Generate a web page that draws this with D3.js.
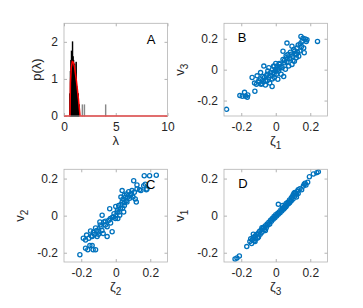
<!DOCTYPE html>
<html>
<head>
<meta charset="utf-8">
<script src="https://cdn.jsdelivr.net/npm/d3@7"></script>
<style>
  html, body { margin: 0; padding: 0; background: #fff; }
  svg { display: block; font-family: "Liberation Sans", Arial, sans-serif; }
  .tick text { fill: #262626; font-size: 12px; }
</style>
</head>
<body>
<svg id="chart" width="363" height="308"></svg>
<script>
// Panel A: eigenvalue histogram (bin start, height) and fitted density
const histBinWidth = 0.05;
const histBins = [
  [0.55, 0.6], [0.60, 1.2], [0.65, 1.5], [0.70, 1.75], [0.75, 1.7],
  [0.80, 2.0], [0.85, 1.6], [0.90, 1.5], [0.95, 1.3], [1.00, 1.4],
  [1.05, 1.1], [1.10, 1.0], [1.15, 1.45], [1.20, 0.8], [1.25, 0.7],
  [1.30, 0.5], [1.35, 0.6], [1.40, 0.3], [1.45, 0.3],
  [1.75, 0.3], [1.95, 0.3], [4.00, 0.3]
];
const densityCurve = [
  [0, 0], [0.58, 0], [0.62, 0.9], [0.7, 1.3], [0.8, 1.47], [0.9, 1.45],
  [1.0, 1.35], [1.1, 1.15], [1.2, 0.95], [1.3, 0.7], [1.4, 0.45],
  [1.5, 0.15], [1.55, 0], [10, 0]
];

// Panel B: zeta_1 vs v_3
const pointsB = [
  [-0.285,-0.257],[-0.208,-0.168],[-0.194,-0.172],[-0.181,-0.147],[-0.175,-0.172],
  [-0.165,-0.179],[-0.162,-0.164],[-0.121,-0.14],[-0.137,-0.051],[-0.123,-0.087],
  [-0.108,-0.04],[-0.112,-0.094],[-0.098,-0.072],[-0.088,-0.019],[-0.085,-0.094],
  [-0.073,-0.079],[-0.069,0.023],[-0.065,-0.051],[-0.06,-0.1],[-0.054,-0.04],
  [-0.05,-0.072],[-0.046,-0.009],[-0.04,0.013],[-0.035,-0.087],[-0.031,-0.04],
  [-0.021,-0.109],[-0.015,-0.019],[-0.012,0.023],[-0.008,-0.051],[-0.002,0.002],
  [0.004,-0.03],[0.008,0.023],[0.012,-0.062],[0.017,-0.009],[0.023,0.034],
  [0.031,-0.03],[0.037,0.013],[0.042,0.066],[0.046,-0.045],[0.052,0.045],
  [0.056,0.002],[0.042,0.119],[0.062,0.077],[0.065,0.049],[0.071,0.098],
  [0.065,0.172],[0.075,0.023],[0.081,0.07],[0.085,0.113],[0.094,0.151],
  [0.094,0.034],[0.1,0.087],[0.104,0.13],[0.108,0.055],[0.113,0.098],
  [0.119,0.077],[0.123,0.14],[0.127,0.113],[0.133,0.087],[0.142,0.168],
  [0.152,0.183],[0.146,0.215],[0.158,0.204],[0.162,0.14],[0.165,0.109],
  [0.171,0.198],[0.177,0.183],[0.181,0.194],[0.242,0.183],
  [-0.09,-0.06],[-0.075,-0.045],[-0.06,-0.07],[-0.05,-0.03],[-0.04,-0.05],
  [-0.03,-0.02],[-0.02,-0.06],[-0.01,-0.03],[0.0,-0.01],[0.01,0.0],
  [0.02,0.01],[0.03,0.02],[-0.1,-0.08],[-0.08,-0.09],[0.05,0.06],
  [0.07,0.07],[0.09,0.1],[0.11,0.12],[0.12,0.1],[0.1,0.06],
  [0.14,0.12],[0.06,0.09],[0.15,0.15],[0.13,0.16],[0.02,0.04],
  [-0.01,0.02],[0.0,0.04]
];

// Panel C: zeta_2 vs v_2
const pointsC = [
  [-0.208,-0.211],[-0.175,-0.176],[-0.162,-0.184],[-0.15,-0.161],[-0.137,-0.161],
  [-0.131,-0.184],[-0.117,-0.184],[-0.188,-0.122],[-0.169,-0.105],[-0.175,-0.131],
  [-0.156,-0.122],[-0.137,-0.113],[-0.123,-0.101],[-0.146,-0.083],[-0.117,-0.066],
  [-0.108,-0.113],[-0.098,-0.087],[-0.092,-0.034],[-0.085,-0.06],[-0.079,0.002],
  [-0.073,-0.096],[-0.069,-0.034],[-0.06,-0.051],[-0.05,-0.113],[-0.04,-0.025],
  [-0.035,0.037],[-0.031,-0.016],[-0.021,-0.087],[-0.015,-0.007],[-0.002,-0.016],
  [0.008,0.02],[0.012,-0.016],[0.017,0.055],[0.023,0.002],[0.027,0.037],
  [0.037,0.135],[0.037,0.073],[0.042,0.09],[0.046,0.02],[0.05,0.055],
  [0.056,0.099],[0.062,0.117],[0.065,0.073],[0.075,0.129],[0.081,0.094],
  [0.085,0.108],[0.094,0.135],[0.104,0.188],[0.108,0.126],[0.113,0.09],
  [0.119,0.073],[0.123,0.165],[0.123,0.144],[0.138,0.14],[0.146,0.135],
  [0.162,0.161],[0.165,0.215],[0.177,0.14],[0.196,0.215],[0.235,0.218],
  [0.171,0.17],[0.181,0.144],
  [-0.06,-0.03],[-0.05,-0.06],[-0.03,-0.04],[-0.02,-0.01],[0.0,0.0],
  [0.01,0.03],[0.02,0.02],[0.03,0.06],[0.04,0.04],[0.05,0.07],
  [0.06,0.08],[0.0,0.05],[-0.01,0.01],[0.03,0.1],[0.05,0.11],
  [0.07,0.1],[-0.09,-0.05],[-0.1,-0.1],[-0.11,-0.08],[-0.13,-0.09],
  [-0.14,-0.11],[-0.08,-0.08],[0.09,0.12],[0.1,0.1]
];

// Panel D: zeta_3 vs v_1
const pointsD = [
  [-0.236,-0.234],[-0.225,-0.228],[-0.211,-0.218],[-0.168,-0.167],[-0.15,-0.14],
  [-0.145,-0.125],[-0.14,-0.15],[-0.135,-0.13],[-0.13,-0.118],[-0.125,-0.135],
  [-0.12,-0.11],[-0.115,-0.125],[-0.11,-0.1],[-0.105,-0.12],[-0.1,-0.095],
  [-0.095,-0.085],[-0.09,-0.1],[-0.085,-0.078],[-0.08,-0.09],[-0.075,-0.07],
  [-0.07,-0.062],[-0.065,-0.075],[-0.06,-0.055],[-0.055,-0.065],[-0.05,-0.045],
  [-0.045,-0.05],[-0.04,-0.035],[-0.035,-0.045],[-0.03,-0.025],[-0.025,-0.03],
  [-0.02,-0.015],[-0.015,-0.02],[-0.01,-0.005],[-0.005,-0.012],[0,0.005],
  [0.005,-0.002],[0.01,0.012],[0.015,0.061],[0.015,0.008],[0.02,0.02],
  [0.025,0.015],[0.03,0.032],[0.035,0.025],[0.04,0.04],[0.045,0.035],
  [0.05,0.05],[0.055,0.045],[0.06,0.065],[0.065,0.058],[0.07,0.072],
  [0.075,0.065],[0.08,0.085],[0.085,0.078],[0.09,0.095],[0.095,0.1],
  [0.1,0.09],[0.1,0.11],[0.105,0.12],[0.11,0.105],[0.115,0.12],
  [0.12,0.115],[0.125,0.13],[0.13,0.12],[0.14,0.145],[0.15,0.14],
  [0.16,0.16],[0.165,0.17],[0.17,0.175],[0.175,0.165],[0.185,0.18],
  [0.195,0.21],[0.218,0.225],[0.238,0.232],[0.247,0.236],
  [-0.13,-0.1],[-0.12,-0.14],[-0.1,-0.115],[-0.08,-0.065],[-0.06,-0.08],
  [0.06,0.05],[0.08,0.07],[0.09,0.08],[0.11,0.125],[0.12,0.1],
  [0.13,0.14],[0.04,0.055],[0.05,0.04]
];

const panels = [
  { id: 'A', left: 64,  top: 23.3,  xDomain: [0, 10], yDomain: [0, 2.5],
    xTicks: [0, 5, 10], yTicks: [0, 1, 2], xLabel: ['λ', ''], yLabel: ['p(λ)', ''],
    yLabelX: -23, tag: { x: 151, y: 44, anchor: 'middle' } },
  { id: 'B', left: 224, top: 23.3,  xDomain: [-0.3, 0.3], yDomain: [-0.3, 0.3],
    xTicks: [-0.2, 0, 0.2], yTicks: [-0.2, 0, 0.2], xLabel: ['ζ', '1'], yLabel: ['v', '3'],
    yLabelX: -40, points: pointsB, tag: { x: 242, y: 42, anchor: 'middle' } },
  { id: 'C', left: 64,  top: 169.3, xDomain: [-0.3, 0.3], yDomain: [-0.25, 0.25],
    xTicks: [-0.2, 0, 0.2], yTicks: [-0.2, 0, 0.2], xLabel: ['ζ', '2'], yLabel: ['v', '2'],
    yLabelX: -40, points: pointsC, tag: { x: 146, y: 189, anchor: 'start' } },
  { id: 'D', left: 224, top: 169.3, xDomain: [-0.3, 0.3], yDomain: [-0.25, 0.25],
    xTicks: [-0.2, 0, 0.2], yTicks: [-0.2, 0, 0.2], xLabel: ['ζ', '3'], yLabel: ['v', '1'],
    yLabelX: -40, points: pointsD, tag: { x: 243, y: 188, anchor: 'middle' } }
];

const W = 103.5, H = 92.7;
const AXIS_GRAY = '#b3b3b3';
const BLUE = '#0072BD';
const svg = d3.select('#chart');

function fmt(v) {
  if (v === 0) return '0';
  return (v < 0 ? '-' : '') + String(Math.abs(v));
}

function addLabel(sel, parts) {
  sel.append('tspan').text(parts[0]);
  if (parts[1]) {
    sel.append('tspan').attr('dy', 4).attr('font-size', 10).text(parts[1]);
  }
}

// a bin with no neighbour on either side reads as a thin grey line
function isolated(d) {
  return !histBins.some(b => b !== d && Math.abs(Math.abs(b[0] - d[0]) - histBinWidth) < 1e-6);
}

for (const p of panels) {
  const g = svg.append('g').attr('transform', `translate(${p.left},${p.top})`);
  const x = d3.scaleLinear().domain(p.xDomain).range([0, W]);
  const y = d3.scaleLinear().domain(p.yDomain).range([H, 0]);

  g.append('rect').attr('width', W).attr('height', H).attr('fill', '#fff');

  // axes with inward ticks on all four sides
  const ax = [
    g.append('g').attr('transform', `translate(0,${H})`)
      .call(d3.axisBottom(x).tickValues(p.xTicks).tickSize(-3).tickPadding(6).tickFormat(fmt)),
    g.append('g')
      .call(d3.axisTop(x).tickValues(p.xTicks).tickSize(-3).tickFormat('')),
    g.append('g')
      .call(d3.axisLeft(y).tickValues(p.yTicks).tickSize(-3).tickPadding(6).tickFormat(fmt)),
    g.append('g').attr('transform', `translate(${W},0)`)
      .call(d3.axisRight(y).tickValues(p.yTicks).tickSize(-3).tickFormat(''))
  ];
  ax.forEach(a => {
    a.select('.domain').remove();
    a.selectAll('.tick line').attr('stroke', AXIS_GRAY);
  });

  const plot = g.append('g');

  if (p.id === 'A') {
    plot.selectAll('rect.bin')
      .data(histBins)
      .join('rect')
      .attr('class', 'bin')
      .attr('x', d => x(d[0]))
      .attr('width', x(histBinWidth) - x(0))
      .attr('y', d => y(d[1]))
      .attr('height', d => y(0) - y(d[1]))
      .attr('fill', d => isolated(d) ? '#888' : '#000')
      .attr('stroke', d => isolated(d) ? '#888' : '#000')
      .attr('stroke-width', 0.9);

    plot.append('path')
      .datum(densityCurve)
      .attr('fill', 'none')
      .attr('stroke', '#ff0000')
      .attr('stroke-width', 1.5)
      .attr('d', d3.line().x(d => x(d[0])).y(d => y(d[1])));
  } else {
    plot.selectAll('circle')
      .data(p.points)
      .join('circle')
      .attr('cx', d => x(d[0]))
      .attr('cy', d => y(d[1]))
      .attr('r', 2.1)
      .attr('fill', 'none')
      .attr('stroke', BLUE)
      .attr('stroke-width', 1.3);
  }

  // box
  g.append('rect').attr('width', W).attr('height', H)
    .attr('fill', 'none').attr('stroke', AXIS_GRAY).attr('stroke-width', 0.8);

  // panel tag
  g.append('text')
    .attr('x', p.tag.x - p.left).attr('y', p.tag.y - p.top)
    .attr('text-anchor', p.tag.anchor)
    .attr('font-size', 13).attr('fill', '#000')
    .text(p.id);

  // axis labels
  addLabel(g.append('text')
    .attr('x', W / 2).attr('y', H + 29)
    .attr('text-anchor', 'middle').attr('font-size', 13).attr('fill', '#262626'), p.xLabel);

  addLabel(g.append('text')
    .attr('transform', `translate(${p.yLabelX},${H / 2}) rotate(-90)`)
    .attr('text-anchor', 'middle').attr('font-size', 13).attr('fill', '#262626'), p.yLabel);
}
</script>
</body>
</html>
